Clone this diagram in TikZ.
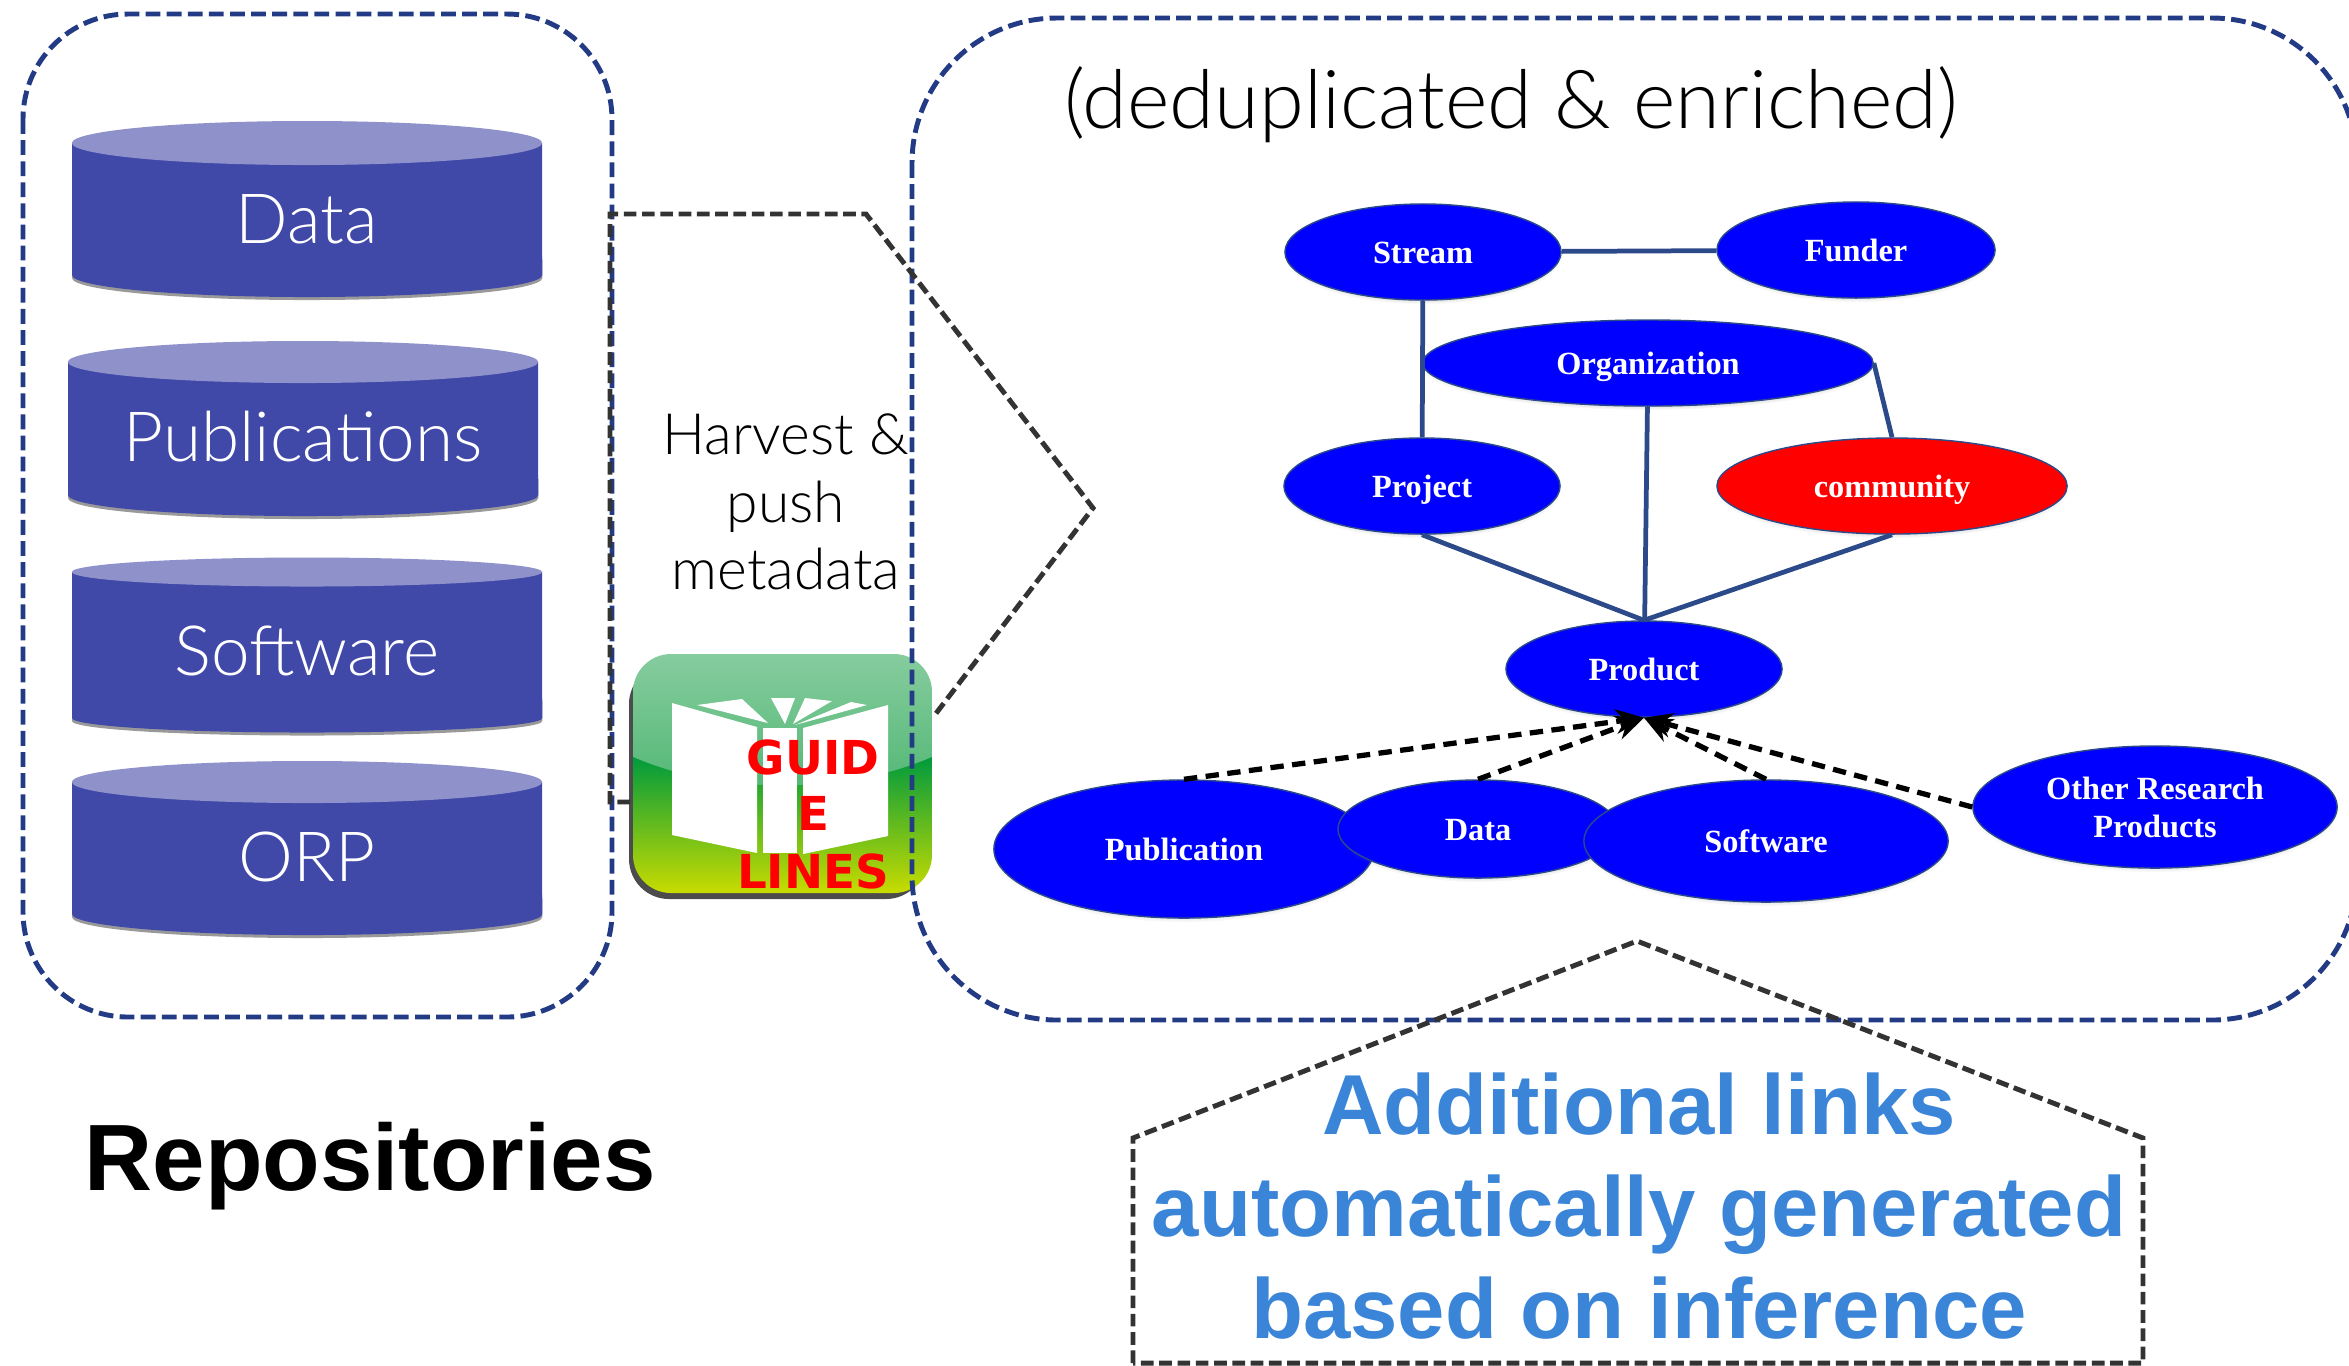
\documentclass[tikz,border=0pt]{standalone}
\usepackage{fontspec}
\setmainfont{Liberation Sans}
\newfontfamily\lightfont{Lato Light}
\newfontfamily\serifbold{Liberation Serif Bold}
\newfontfamily\badgefont{DejaVu Sans Bold}
\usetikzlibrary{shapes.geometric,shadows,arrows.meta}
\definecolor{boxblue}{HTML}{233B84}
\definecolor{linkblue}{HTML}{2C4A8A}
\definecolor{cylbody}{HTML}{4048A8}
\definecolor{cyltop}{HTML}{8F91CB}
\definecolor{dashgray}{HTML}{333333}
\definecolor{headblue}{HTML}{3A85D8}
\definecolor{iconTop}{HTML}{86CC9E}
\definecolor{iconMid}{HTML}{4FB672}
\definecolor{iconLow}{HTML}{009A3D}
\definecolor{iconCen}{HTML}{6CB82E}
\definecolor{iconEnd}{HTML}{C8DC00}
\tikzset{
    groupbox/.style={draw=boxblue,line width=1.4pt,dash pattern=on 4.2pt off 1.8pt},
    outline/.style={draw=dashgray,line width=1.4pt,dash pattern=on 3.6pt off 1.6pt},
    entity/.style={ellipse,draw=linkblue,fill=blue,text=white,inner sep=0pt,align=center,
        font=\serifbold\fontsize{9.2}{10.8}\selectfont,
        circular drop shadow={shadow xshift=0pt,shadow yshift=-1pt,shadow scale=1.01,opacity=.35}},
    oneline/.style={entity,text height=7.5pt,text depth=.7pt},
    link/.style={draw=linkblue,line width=1.35pt},
    isa/.style={draw=black,line width=1.5pt,dash pattern=on 3.8pt off 2.4pt,-{Stealth[length=8pt,width=7pt]}},
    cyllabel/.style={text=white,font=\lightfont\fontsize{19.7}{22}\selectfont},
    note/.style={font=\lightfont\fontsize{16.2}{19.2}\selectfont,align=center},
    badge/.style={text=red,font=\badgefont\fontsize{13.3}{15}\selectfont,inner sep=0pt},
    page/.style={fill=white,draw=none}
}
\begin{document}
\begin{tikzpicture}[x=0.01cm,y=-0.01cm]
    \path[use as bounding box,clip] (0,0) rectangle (2349,1365);
    % repositories
    \foreach \nm/\lbl/\xa/\ya/\yb/\ry/\yt in {cylData/Data/72/143/275/.22/219,
            cylPub/Publications/68/362/495/.21/437,
            cylSoft/Software/72/572/718/.145/651,
            cylOrp/ORP/72/782/914/.21/857}{
        \fill[black!40] (\xa,\yb-20) -- (\xa,\yb+3) arc (180:360:2.35cm and \ry cm) -- (\xa+470,\yb-20) -- cycle;
        \fill[cylbody] (\xa,\ya) -- (\xa,\yb) arc (180:360:2.35cm and \ry cm) -- (\xa+470,\ya) -- cycle;
        \fill[cyltop] (\xa+235,\ya) ellipse (2.35cm and \ry cm);
        \node[cyllabel] (\nm) at (\xa+235,\yt) {\lbl};
    }
    % guidelines icon
    \fill[black!70,rounded corners=.4cm] (629,664) rectangle (926,899);
    \begin{scope}
        \clip[rounded corners=.38cm] (633,654) rectangle (932,893);
        \shade[top color=iconTop,bottom color=iconMid] (633,654) rectangle (932,800);
        \shade[top color=iconLow,middle color=iconCen,bottom color=iconEnd]
            (633,757) .. controls (720,795) and (845,795) .. (932,757) -- (932,893) -- (633,893) -- cycle;
    \end{scope}
    \fill[page] (672,703) -- (757,727) -- (757,853) -- (672,835) -- cycle;
    \fill[page] (763,728) -- (797,728) -- (797,853) -- (763,853) -- cycle;
    \fill[page] (803,728) -- (888,705) -- (888,836) -- (803,854) -- cycle;
    \fill[page] (697,705) -- (742,699) -- (768,723) -- cycle;
    \fill[page] (771,698) -- (795,698) -- (785,724) -- cycle;
    \fill[page] (805,698) -- (832,701) -- (793,724) -- cycle;
    \fill[page] (851,702) -- (867,705) -- (795,725) -- cycle;
    \node[badge] (guid) at (813,757) {GUID};
    \node[badge] (guidE) at (813,813) {E};
    \node[badge] (lines) at (813,871) {LINES};
    % dashed frames
    \draw[groupbox,rounded corners=1.05cm] (23,14) rectangle (612,1017);
    \draw[groupbox,rounded corners=1.45cm] (912,18) rectangle (2357,1020);
    \draw[outline] (630,802) -- (610,802) -- (610,214) -- (866,214) -- (1093,508) -- (934,716);
    \draw[outline] (1133,1363) -- (1133,1138) -- (1637,941) -- (2143,1138) -- (2143,1363) -- cycle;
    % texts
    \node[note] (harvest) at (786,502) {Harvest \&\\push\\metadata};
    \node[font=\lightfont\fontsize{23.1}{25}\selectfont] (dedup) at (1511,105) {(deduplicated \& enriched)};
    \node[font=\bfseries\fontsize{26.8}{30}\selectfont] (repos) at (370,1166) {Repositories};
    \node[text=headblue,align=center,font=\bfseries\fontsize{24.2}{28.9}\selectfont] (inference) at (1639,1206)
        {Additional links\\automatically generated\\based on inference};
    % data model
    \node[oneline,minimum width=2.76cm,minimum height=.96cm] (stream) at (1423,252) {Stream};
    \node[oneline,minimum width=2.78cm,minimum height=.96cm] (funder) at (1856,250) {Funder};
    \node[oneline,minimum width=4.5cm,minimum height=.86cm] (organization) at (1648,363) {Organization};
    \node[oneline,minimum width=2.76cm,minimum height=.96cm] (project) at (1422,486) {Project};
    \node[oneline,fill=red,minimum width=3.5cm,minimum height=.96cm] (community) at (1892,486) {community};
    \node[oneline,minimum width=2.76cm,minimum height=.96cm] (product) at (1644,669) {Product};
    \node[oneline,minimum width=3.8cm,minimum height=1.38cm] (publication) at (1184,849) {Publication};
    \node[oneline,minimum width=2.8cm,minimum height=.98cm] (dataset) at (1478,829) {Data};
    \node[oneline,minimum width=3.64cm,minimum height=1.22cm] (software) at (1766,841) {Software};
    \node[entity,minimum width=3.64cm,minimum height=1.22cm] (other) at (2155,807) {Other Research\\Products};
    \draw[link] (stream) -- (funder);
    \draw[link] (stream) -- (project);
    \draw[link] (organization.east) -- (community.north);
    \draw[link] (organization) -- (product);
    \draw[link] (project.south) -- (product.north);
    \draw[link] (community.south) -- (product.north);
    \foreach \from in {publication,dataset,software}
        \draw[isa] (\from.north) -- (product.south);
    \draw[isa] (other.west) -- (product.south);
\end{tikzpicture}
\end{document}
